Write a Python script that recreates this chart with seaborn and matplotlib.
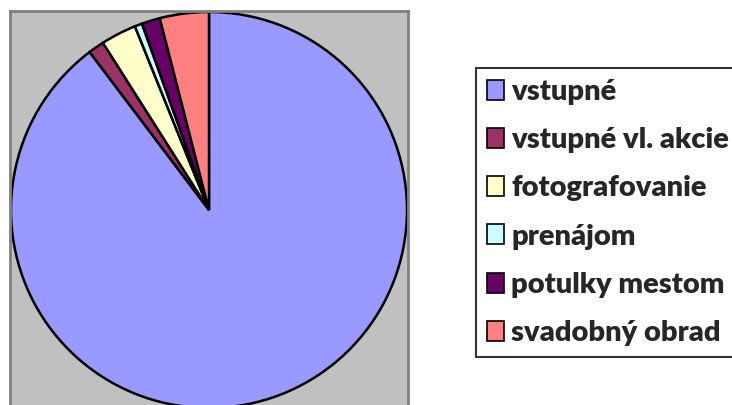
import matplotlib
matplotlib.use("Agg")
import matplotlib.pyplot as plt
import seaborn as sns

categories = ["vstupné", "vstupné vl. akcie", "fotografovanie", "prenájom", "potulky mestom", "svadobný obrad"]
values = [89.7, 1.3, 2.9, 0.6, 1.5, 4.0]
colors = ["#9999FF", "#993366", "#FFFFCC", "#CCFFFF", "#660066", "#FF8080"]

sns.set_style("white")
plt.rcParams["font.family"] = ["Lato", "DejaVu Sans"]

W, H = 732, 405
fig = plt.figure(figsize=(W / 100, H / 100), dpi=100)

# plot area (gray square), extends slightly past bottom
left, top, right, bottom = 10, 11, 408, 409
ax = fig.add_axes([left / W, (H - bottom) / H, (right - left) / W, (bottom - top) / H])

wedges, _ = ax.pie(values, colors=colors, startangle=90, counterclock=False,
                   radius=1.0, center=(0, 0), frame=True,
                   wedgeprops=dict(edgecolor="black", linewidth=1.8))
ax.set_facecolor("#C0C0C0")
for s in ax.spines.values():
    s.set_visible(True)
    s.set_color("#808080")
    s.set_linewidth(2)
ax.set_xlim(-1.005, 1.005)
ax.set_ylim(-1.005, 1.005)
ax.set_aspect("auto")
ax.set_xticks([])
ax.set_yticks([])

leg = fig.legend(wedges, categories, loc="upper left",
                 bbox_to_anchor=(476 / W, 1 - 68 / H),
                 frameon=True, fancybox=False, edgecolor="black",
                 prop=dict(family=["Lato", "DejaVu Sans"], weight="heavy", size=21),
                 handlelength=0.58, handleheight=0.68, handletextpad=0.25,
                 labelspacing=0.76, borderpad=0.38, borderaxespad=0)
leg.get_frame().set_linewidth(1.5)
for h in leg.legend_handles:
    h.set_edgecolor("black")
    h.set_linewidth(1.2)

fig.savefig("out.png", dpi=100)
